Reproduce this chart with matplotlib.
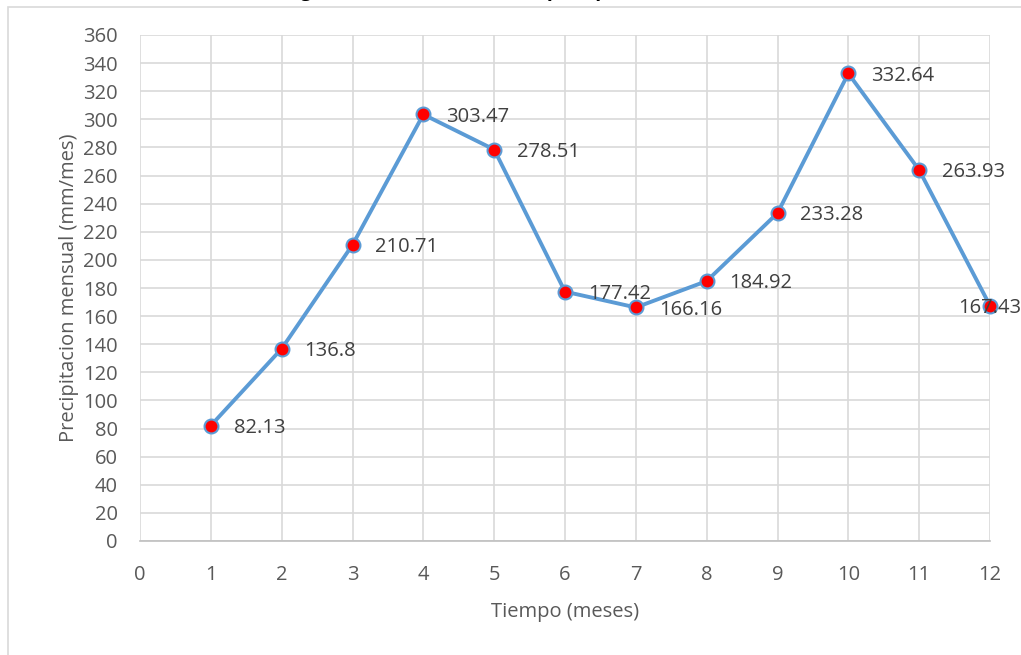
import matplotlib
matplotlib.use("Agg")
import matplotlib.pyplot as plt
from matplotlib.patches import Rectangle

months = [1, 2, 3, 4, 5, 6, 7, 8, 9, 10, 11, 12]
precip = [82.13, 136.8, 210.71, 303.47, 278.51, 177.42, 166.16, 184.92, 233.28, 332.64, 263.93, 167.43]
labels = ["82.13", "136.8", "210.71", "303.47", "278.51", "177.42", "166.16", "184.92", "233.28", "332.64", "263.93", "167.43"]
title = "Figura 4: Curva anual de la precipitación en la Subcuenca Cachi"
xlabel = "Tiempo (meses)"
ylabel = "Precipitacion mensual (mm/mes)"

plt.rcParams['font.family'] = ['Open Sans', 'DejaVu Sans']

W, H = 1021, 655
fig = plt.figure(figsize=(W / 100, H / 100), dpi=100)

# outer chart frame
fig.patches.append(Rectangle((8 / W, -0.05), 1.2, 1 - 7 / H + 0.05, transform=fig.transFigure,
                             fill=False, edgecolor="#d9d9d9", linewidth=1.2, zorder=0))

# title (cut off at the top edge as in the reference)
fig.text(590 / W, 1 + 4 / H, title, ha="center", va="baseline", fontsize=14,
         fontweight="bold", color="#000000")

FS = 14.5
left, right, bottom, top = 140, 990, 541, 35
ax = fig.add_axes([left / W, 1 - bottom / H, (right - left) / W, (bottom - top) / H])
ax.set_xlim(0, 12)
ax.set_ylim(0, 360)
ax.set_xticks(range(0, 13))
ax.set_yticks(range(0, 361, 20))
ax.grid(True, color="#d9d9d9", linewidth=1.2)
ax.set_axisbelow(True)
for s in ["top", "right", "left"]:
    ax.spines[s].set_visible(False)
ax.spines["bottom"].set_color("#bfbfbf")
ax.spines["bottom"].set_linewidth(1.2)
ax.tick_params(length=0, labelsize=FS, labelcolor="#595959")
ax.tick_params(axis="y", pad=16)
ax.tick_params(axis="x", pad=17.5)

ax.plot(months, precip, color="#5b9bd5", linewidth=2.8, marker="o", markersize=10,
        markerfacecolor="#ff0000", markeredgecolor="#5b9bd5", markeredgewidth=1.5,
        clip_on=False, zorder=3)

for i, (x, y, t) in enumerate(zip(months, precip, labels)):
    if i == len(months) - 1:
        ax.annotate(t, (x, y), xytext=(0, -1.5), textcoords="offset points", ha="center",
                    va="center", fontsize=FS, color="#404040", zorder=4, annotation_clip=False)
    else:
        ax.annotate(t, (x, y), xytext=(16.5, -1.5), textcoords="offset points", ha="left",
                    va="center", fontsize=FS, color="#404040", zorder=4)

ax.set_xlabel(xlabel, fontsize=FS, color="#595959", labelpad=12)
ax.set_ylabel(ylabel, fontsize=FS, color="#595959", labelpad=3)

fig.savefig("out.png", dpi=100)
